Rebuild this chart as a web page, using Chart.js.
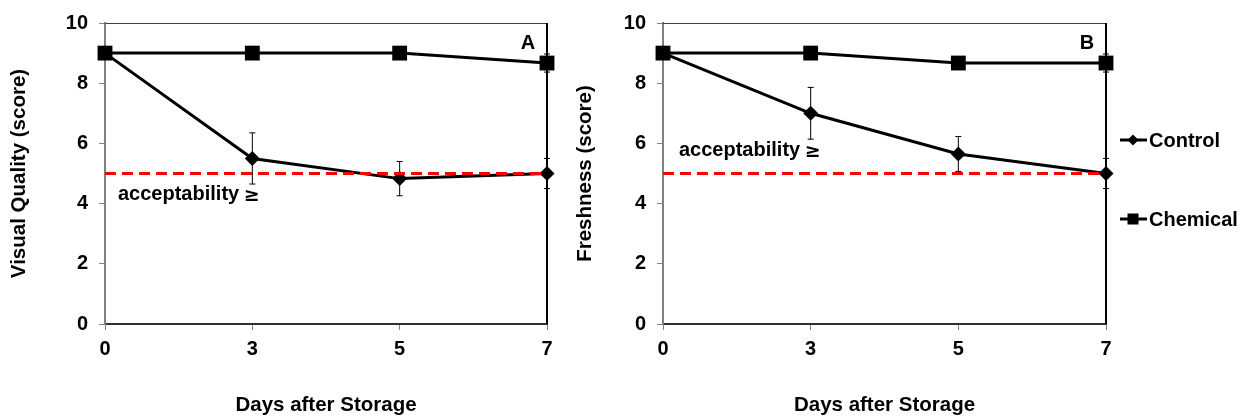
<!DOCTYPE html>
<html>
<head>
<meta charset="utf-8">
<script src="https://cdn.jsdelivr.net/npm/chart.js@4/dist/chart.umd.min.js"></script>
<style>
  html, body { margin: 0; padding: 0; background: #fff; }
  canvas { position: absolute; top: 0; }
  #chart-a { left: 0; }
  #chart-b { left: 560px; }
</style>
</head>
<body>
<canvas id="chart-a" width="560" height="419"></canvas>
<canvas id="chart-b" width="695" height="419"></canvas>
<script>
// Data
const days = ['0', '3', '5', '7'];

const qualityControl = [9, 5.5, 4.83, 5.0];
const qualityControlErr = [0, 0.85, 0.57, 0.5];
const qualityChemical = [9, 9, 9, 8.67];
const qualityChemicalErr = [0, 0, 0, 0.3];

const freshControl = [9, 7.0, 5.65, 5.0];
const freshControlErr = [0, 0.86, 0.58, 0.5];
const freshChemical = [9, 9, 8.67, 8.67];
const freshChemicalErr = [0, 0, 0, 0.3];

const acceptLimit = [5, 5, 5, 5];
const yTicks = [0, 2, 4, 6, 8, 10];

const FONT = "'Liberation Sans', Arial, sans-serif";

// error bars drawn through the chart scales
const errorBars = {
  id: 'errorBars',
  beforeDatasetsDraw(chart) {
    const { ctx, scales: { x, y } } = chart;
    ctx.save();
    ctx.strokeStyle = '#000';
    ctx.lineWidth = 1;
    chart.data.datasets.forEach((ds) => {
      if (!ds.errors) return;
      ds.data.forEach((v, i) => {
        const e = ds.errors[i];
        if (!e) return;
        const px = x.getPixelForValue(i);
        const top = y.getPixelForValue(v + e);
        const bot = y.getPixelForValue(v - e);
        ctx.beginPath();
        ctx.moveTo(px, top); ctx.lineTo(px, bot);
        ctx.moveTo(px - 3, top); ctx.lineTo(px + 3, top);
        ctx.moveTo(px - 3, bot); ctx.lineTo(px + 3, bot);
        ctx.stroke();
      });
    });
    ctx.restore();
  },
};

// top / right frame, panel letter and acceptability note
const decorations = {
  id: 'decorations',
  afterDraw(chart, args, opts) {
    const { ctx, chartArea: a, scales: { y } } = chart;
    ctx.save();
    ctx.strokeStyle = '#404040';
    ctx.lineWidth = 1;
    ctx.beginPath();
    ctx.moveTo(a.left, a.top + 0.5); ctx.lineTo(a.right, a.top + 0.5);
    ctx.stroke();
    ctx.strokeStyle = '#000';
    ctx.lineWidth = 2;
    ctx.beginPath();
    ctx.moveTo(a.right, a.top); ctx.lineTo(a.right, a.bottom);
    ctx.stroke();

    ctx.fillStyle = '#000';
    ctx.font = `bold 20px ${FONT}`;
    ctx.textAlign = 'center';
    ctx.textBaseline = 'middle';
    ctx.fillText(opts.letter, a.right - 19, a.top + 20);

    // note text, with the sign set in DejaVu so it renders upright
    const ny = y.getPixelForValue(opts.noteValue);
    const nx = a.left + opts.noteDx;
    ctx.textAlign = 'left';
    ctx.font = `bold 20px ${FONT}`;
    const word = 'acceptability ';
    ctx.fillText(word, nx, ny);
    const w = ctx.measureText(word).width;
    ctx.font = "bold 19px 'DejaVu Sans', sans-serif";
    ctx.fillText('≥', nx + w - 1, ny + 1);
    ctx.restore();
  },
};

// legend with line + marker, placed right of panel B
const sideLegend = {
  id: 'sideLegend',
  afterDraw(chart, args, opts) {
    if (!opts.show) return;
    const { ctx, chartArea: a } = chart;
    const items = [
      { label: 'Control', style: 'diamond', y: 140 },
      { label: 'Chemical', style: 'square', y: 219 },
    ];
    ctx.save();
    items.forEach((it) => {
      const x0 = a.right + 14;
      ctx.strokeStyle = '#000';
      ctx.lineWidth = 3;
      ctx.beginPath();
      ctx.moveTo(x0, it.y); ctx.lineTo(x0 + 27, it.y);
      ctx.stroke();
      const cx = x0 + 13;
      ctx.fillStyle = '#000';
      if (it.style === 'diamond') {
        ctx.beginPath();
        ctx.moveTo(cx - 5.5, it.y); ctx.lineTo(cx, it.y - 5.5);
        ctx.lineTo(cx + 5.5, it.y); ctx.lineTo(cx, it.y + 5.5);
        ctx.closePath();
        ctx.fill();
      } else {
        ctx.fillRect(cx - 5.5, it.y - 5.5, 11, 11);
      }
      ctx.font = `bold 20px ${FONT}`;
      ctx.textAlign = 'left';
      ctx.textBaseline = 'middle';
      ctx.fillText(it.label, x0 + 29, it.y + 1);
    });
    ctx.restore();
  },
};

function makePanel(canvasId, cfg) {
  return new Chart(document.getElementById(canvasId), {
    type: 'line',
    data: {
      labels: days,
      datasets: [
        {
          label: 'acceptability',
          data: acceptLimit,
          borderColor: '#ff0000',
          borderWidth: 3,
          borderDash: [11, 6],
          pointRadius: 0,
          order: 0,
          clip: false,
        },
        {
          label: 'Control',
          data: cfg.control,
          errors: cfg.controlErr,
          borderColor: '#000',
          backgroundColor: '#000',
          borderWidth: 3,
          pointStyle: 'rectRot',
          pointRadius: 7.5,
          pointBorderWidth: 0,
          order: 2,
          clip: false,
        },
        {
          label: 'Chemical',
          data: cfg.chemical,
          errors: cfg.chemicalErr,
          borderColor: '#000',
          backgroundColor: '#000',
          borderWidth: 3,
          pointStyle: 'rect',
          pointRadius: 10.5,
          pointBorderWidth: 0,
          order: 1,
          clip: false,
        },
      ],
    },
    options: {
      responsive: false,
      animation: false,
      devicePixelRatio: 1,
      layout: { padding: { top: 22, right: cfg.padRight, bottom: 0, left: 0 } },
      plugins: {
        legend: { display: false },
        tooltip: { enabled: false },
        decorations: { letter: cfg.letter, noteValue: cfg.noteValue, noteDx: cfg.noteDx },
        sideLegend: { show: cfg.showLegend },
      },
      scales: {
        x: {
          type: 'category',
          offset: false,
          afterFit: (s) => { s.height = 95; },
          grid: { drawOnChartArea: false, drawTicks: true, tickLength: 6, color: '#808080' },
          border: { color: '#303030', width: 2 },
          ticks: { color: '#000', font: { family: FONT, size: 20, weight: 'bold' }, padding: 7, maxRotation: 0 },
          title: {
            display: true,
            text: 'Days after Storage',
            color: '#000',
            font: { family: FONT, size: 20.5, weight: 'bold' },
            padding: { top: 0, bottom: 1 },
          },
        },
        y: {
          min: 0,
          max: 10,
          afterFit: (s) => { s.width = cfg.yWidth; },
          afterBuildTicks: (s) => { s.ticks = yTicks.map((v) => ({ value: v })); },
          grid: { drawOnChartArea: false, drawTicks: true, tickLength: 6, color: '#808080' },
          border: { color: '#808080', width: 2 },
          ticks: { color: '#000', font: { family: FONT, size: 20, weight: 'bold' }, padding: 11 },
          title: {
            display: true,
            text: cfg.yTitle,
            color: '#000',
            font: { family: FONT, size: 20.5, weight: 'bold' },
            padding: { top: cfg.yTitlePad, bottom: 0 },
          },
        },
      },
    },
    plugins: [errorBars, decorations, sideLegend],
  });
}

makePanel('chart-a', {
  control: qualityControl,
  controlErr: qualityControlErr,
  chemical: qualityChemical,
  chemicalErr: qualityChemicalErr,
  yTitle: 'Visual Quality (score)',
  yWidth: 105,
  yTitlePad: 7,
  padRight: 13,
  letter: 'A',
  noteValue: 4.3,
  noteDx: 13,
  showLegend: false,
});

makePanel('chart-b', {
  control: freshControl,
  controlErr: freshControlErr,
  chemical: freshChemical,
  chemicalErr: freshChemicalErr,
  yTitle: 'Freshness (score)',
  yWidth: 103,
  yTitlePad: 13,
  padRight: 149,
  letter: 'B',
  noteValue: 5.75,
  noteDx: 16,
  showLegend: true,
});
</script>
</body>
</html>
